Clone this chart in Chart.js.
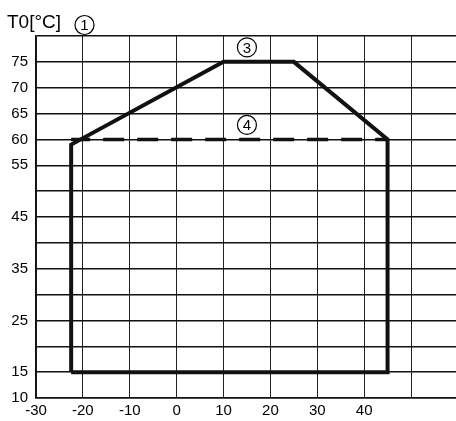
<!DOCTYPE html>
<html><head><meta charset="utf-8">
<script src="https://cdn.jsdelivr.net/npm/chart.js@4"></script>
<style>html,body{margin:0;padding:0;background:#fff}#wrap{width:456px;height:421px;position:relative}</style>
</head><body><div id="wrap"><canvas id="c"></canvas></div>
<script>
// Data
const xTicks = [-30, -20, -10, 0, 10, 20, 30, 40, 50];
const xTickLabels = ['-30', '-20', '-10', '0', '10', '20', '30', '40', ''];
const yTicks = [10, 15, 20, 25, 30, 35, 40, 45, 50, 55, 60, 65, 70, 75, 80];
const yTickLabels = ['10', '15', '', '25', '', '35', '', '45', '', '55', '60', '65', '70', '75', ''];
const envelopeX = [-22.5, -22.5, 10, 25, 45, 45, -22.5];
const envelopeY = [15, 59, 75, 75, 60, 15, 15];
const dashedX = [-22.5, 45];
const dashedY = [60, 60];
const axisTitle = 'T0[°C]';
const markerLabels = ['3', '4'];
const markerX = [15, 15];
const markerY = [77.8, 62.8];

const toPts = (xs, ys) => xs.map((x, i) => ({ x, y: ys[i] }));
const FONT = '"Liberation Sans", Arial, sans-serif';

function circled(ctx, txt, cx, cy, r) {
  ctx.beginPath();
  ctx.arc(cx, cy, r, 0, Math.PI * 2);
  ctx.lineWidth = 1.2;
  ctx.strokeStyle = '#000';
  ctx.stroke();
  ctx.font = '15px ' + FONT;
  ctx.textAlign = 'center';
  ctx.textBaseline = 'middle';
  ctx.fillText(txt, cx, cy + 1);
}

const annot = {
  id: 'annot',
  afterDraw(chart) {
    const ctx = chart.ctx;
    const xs = chart.scales.x, ys = chart.scales.y;
    ctx.save();
    ctx.fillStyle = '#000';
    ctx.font = '19px ' + FONT;
    ctx.textAlign = 'left';
    ctx.textBaseline = 'middle';
    ctx.fillText(axisTitle, 7, 23);
    circled(ctx, '1', 84.5, 25, 9.5);
    for (let i = 0; i < markerLabels.length; i++) {
      circled(ctx, markerLabels[i], xs.getPixelForValue(markerX[i]), ys.getPixelForValue(markerY[i]), 9.5);
    }
    ctx.restore();
  }
};

new Chart(document.getElementById('c'), {
  type: 'scatter',
  data: {
    datasets: [
      { data: toPts(envelopeX, envelopeY), showLine: true, borderColor: '#111', borderWidth: 4,
        pointRadius: 0, borderJoinStyle: 'miter', tension: 0, fill: false },
      { data: toPts(dashedX, dashedY), showLine: true, borderColor: '#111', borderWidth: 3.5,
        pointRadius: 0, borderDash: [21, 13], borderDashOffset: 2, tension: 0, fill: false }
    ]
  },
  options: {
    responsive: true, maintainAspectRatio: false, animation: false,
    layout: { padding: { top: 36, right: 0, left: 0, bottom: 0 } },
    plugins: { legend: { display: false }, tooltip: { enabled: false } },
    scales: {
      x: {
        type: 'linear', min: -30, max: 59.6,
        afterBuildTicks: s => { s.ticks = xTicks.map(v => ({ value: v })); },
        afterFit: s => { s.height = 23; },
        grid: { color: '#222', lineWidth: 1, drawTicks: false },
        border: { color: '#111', width: 1.5 },
        ticks: { padding: 4, color: '#000', font: { family: FONT, size: 15 },
          callback: v => { const i = xTicks.indexOf(v); return i >= 0 ? xTickLabels[i] : ''; } }
      },
      y: {
        type: 'linear', min: 10, max: 80,
        afterBuildTicks: s => { s.ticks = yTicks.map(v => ({ value: v })); },
        afterFit: s => { s.width = 36; },
        grid: { color: '#111', lineWidth: 1.5, drawTicks: false },
        border: { color: '#111', width: 1.5 },
        ticks: { padding: 8, color: '#000', font: { family: FONT, size: 15 },
          callback: v => { const i = yTicks.indexOf(v); return i >= 0 ? yTickLabels[i] : ''; } }
      }
    }
  },
  plugins: [annot]
});
</script></body></html>
